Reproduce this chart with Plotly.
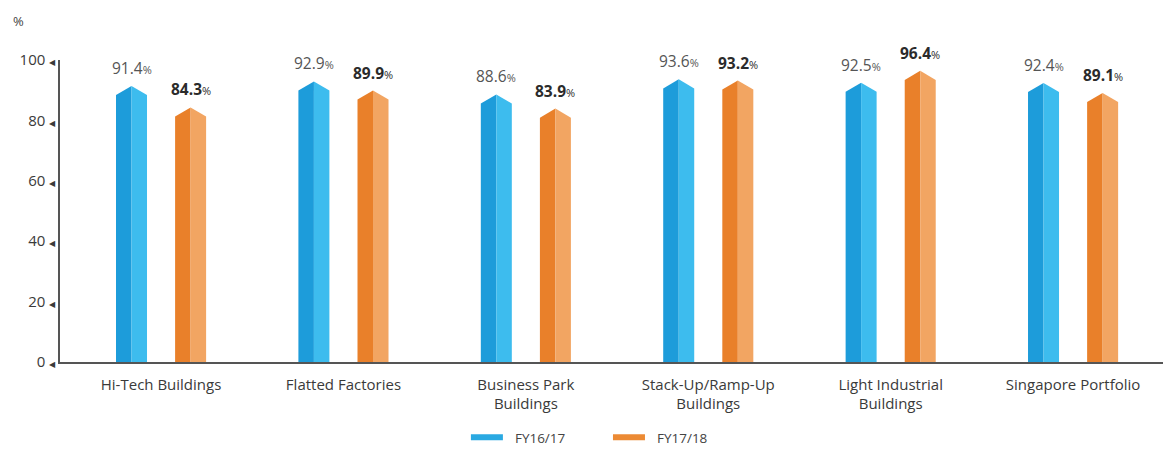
import plotly.graph_objects as go

# Occupancy by property segment
categories = [
    "Hi-Tech Buildings",
    "Flatted Factories",
    "Business Park<br>Buildings",
    "Stack-Up/Ramp-Up<br>Buildings",
    "Light Industrial<br>Buildings",
    "Singapore Portfolio",
]
fy1617 = [91.4, 92.9, 88.6, 93.6, 92.5, 92.4]
fy1718 = [84.3, 89.9, 83.9, 93.2, 96.4, 89.1]
y_ticks = [0, 20, 40, 60, 80, 100]

FONT = "Open Sans, Lato, sans-serif"

series = [
    dict(name="FY16/17", values=fy1617, offset=-0.162, dark="#1d9cda", light="#3dbcee",
         legend="#2aa9e2", bold=False, txt="#555555", leg="legend", leg_x=0.3680),
    dict(name="FY17/18", values=fy1718, offset=0.162, dark="#e9802a", light="#f2a562",
         legend="#ec8a34", bold=True, txt="#2b2b2b", leg="legend2", leg_x=0.4968),
]

half_w = 0.085   # half bar width in category units
roof = 3.0       # height of the pointed cap in % units
x_pos = list(range(len(categories)))
x_range = [-0.554, 5.493]

fig = go.Figure()
annotations = []

for s in series:
    for i, v in enumerate(s["values"]):
        xc = x_pos[i] + s["offset"]
        # left (shaded) half of the pencil bar
        fig.add_trace(go.Scatter(
            x=[xc - half_w, xc - half_w, xc, xc, xc - half_w],
            y=[0, v - roof, v, 0, 0],
            fill="toself", fillcolor=s["dark"], mode="lines",
            line=dict(width=0, color=s["dark"]), showlegend=False, hoverinfo="skip"))
        # right (lit) half
        fig.add_trace(go.Scatter(
            x=[xc, xc, xc + half_w, xc + half_w, xc],
            y=[0, v, v - roof, 0, 0],
            fill="toself", fillcolor=s["light"], mode="lines",
            line=dict(width=0, color=s["light"]), showlegend=False, hoverinfo="skip"))
        # value label above the cap
        num = f"{v:.1f}"
        if s["bold"]:
            num = f"<b>{num}</b>"
        annotations.append(dict(
            x=xc, y=v, xref="x", yref="y", showarrow=False,
            text=f"{num}<span style='font-size:11px'>%</span>",
            xanchor="center", yanchor="bottom", yshift=5,
            font=dict(family=FONT, size=15.5, color=s["txt"])))
    # legend swatch
    fig.add_trace(go.Scatter(
        x=[None], y=[None], mode="lines", name="&nbsp;&nbsp;" + s["name"], legend=s["leg"],
        line=dict(color=s["legend"], width=6)))

tick_text = [f"{t} <span style='font-size:8px'>◀</span>" for t in y_ticks]

annotations.append(dict(text="%", xref="paper", yref="paper", x=-0.0375, y=1.13,
                        xanchor="center", yanchor="middle", showarrow=False,
                        font=dict(family=FONT, size=13, color="#444444")))

legend_common = dict(orientation="h", y=-0.25, yanchor="middle", xanchor="left",
                     itemwidth=32, font=dict(family=FONT, size=13.5, color="#444444"),
                     bgcolor="rgba(0,0,0,0)")

fig.update_layout(
    width=1163, height=453,
    margin=dict(l=60, r=0, t=60, b=90),
    paper_bgcolor="white", plot_bgcolor="white",
    font=dict(family=FONT, size=14, color="#444444"),
    xaxis=dict(
        range=x_range, tickmode="array", tickvals=x_pos, ticktext=categories,
        showgrid=False, zeroline=False, showline=True, linecolor="#555555", linewidth=1.5,
        ticks="", ticklabelstandoff=8, tickfont=dict(family=FONT, size=15, color="#3a3a3a"),
        fixedrange=True),
    yaxis=dict(
        range=[0, 100], tickmode="array", tickvals=y_ticks, ticktext=tick_text,
        showgrid=False, zeroline=False, showline=True, linecolor="#555555", linewidth=1.5,
        ticks="", ticklabelstandoff=0, tickfont=dict(family=FONT, size=15, color="#3a3a3a"),
        fixedrange=True),
    legend=dict(x=series[0]["leg_x"], **legend_common),
    legend2=dict(x=series[1]["leg_x"], **legend_common),
    annotations=annotations,
)

fig.write_html("out.html")
